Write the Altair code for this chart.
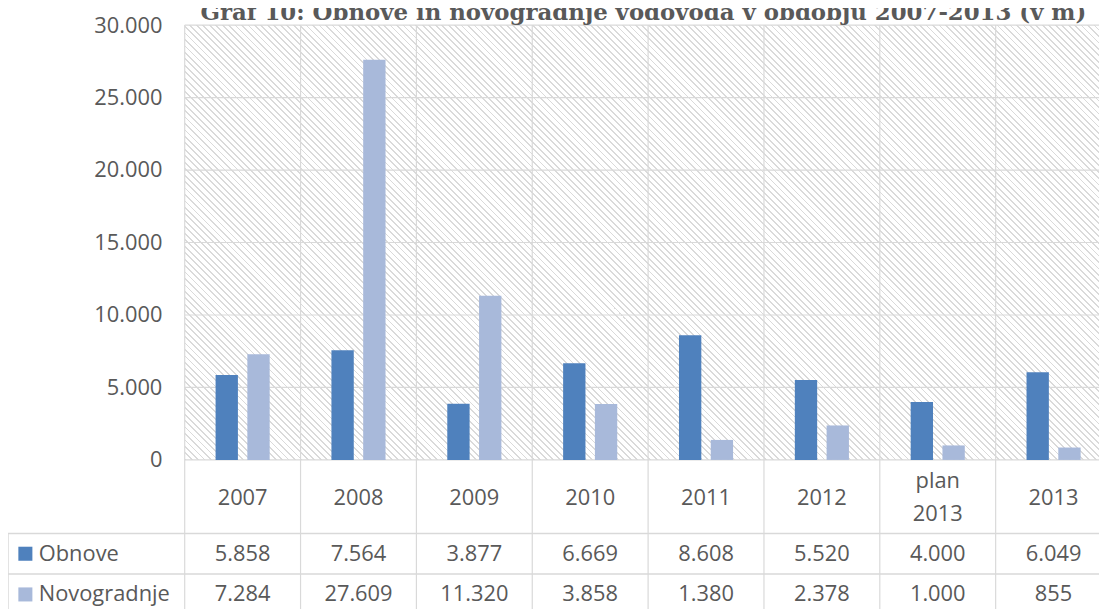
import math
import altair as alt
import pandas as pd

# ---------------- data ----------------
categories = ["2007", "2008", "2009", "2010", "2011", "2012", "plan 2013", "2013"]
category_labels = ["2007", "2008", "2009", "2010", "2011", "2012", "plan\n2013", "2013"]
series_names = ["Obnove", "Novogradnje"]
obnove = [5858, 7564, 3877, 6669, 8608, 5520, 4000, 6049]
novogradnje = [7284, 27609, 11320, 3858, 1380, 2378, 1000, 855]
y_ticks = [0, 5000, 10000, 15000, 20000, 25000, 30000]
title_text = "Graf 10: Obnove in novogradnje vodovoda v obdobju 2007-2013 (v m)"

series_colors = ["#4F81BD", "#A8B9DA"]
TEXT = "#595959"
GRID = "#d9d9d9"
FONT = "Open Sans"

# ---------------- layout ----------------
W, H = 921, 438
COL = 116.7
ROW_HEAD_BOTTOM = H + 74
ROW1_BOTTOM = ROW_HEAD_BOTTOM + 41
ROW2_BOTTOM = ROW1_BOTTOM + 41
LEFT = 178
LINE_H = 33

df_cat = pd.DataFrame({"cat": categories, "catlabel": category_labels})
df_cat["nlines"] = df_cat["catlabel"].str.count("\n") + 1
df = pd.DataFrame({"cat": categories, "Obnove": obnove, "Novogradnje": novogradnje})
df_long = df.melt(id_vars="cat", var_name="series", value_name="value")
df_ticks = pd.DataFrame({"tick": y_ticks})

x_scale = alt.Scale(domain=categories, range=[0, COL * len(categories)],
                    paddingInner=0, paddingOuter=0)
x_enc = alt.X("cat:N", scale=x_scale, axis=None)
y_scale = alt.Scale(domain=[0, 30000], nice=False)
y_axis = alt.Axis(values=y_ticks, title=None, grid=False, domain=False, ticks=False,
                  labelPadding=23, labelFont=FONT, labelFontSize=22, labelColor=TEXT,
                  labelExpr="replace(format(datum.value, ',d'), ',', '.')")
color_scale = alt.Scale(domain=series_names, range=series_colors)

# hatch background built as a striped linear gradient (style only)
L = (W + H) / math.sqrt(2)
period, lw = 4.6, 1.3
hatch_col = "#dadada"
stops = []
i = 0
while True:
    s = i * period / L
    e = (i * period + lw) / L
    if e > 1:
        break
    stops += [
        {"offset": round(s, 5), "color": "#ffffff"},
        {"offset": round(s, 5), "color": hatch_col},
        {"offset": round(e, 5), "color": hatch_col},
        {"offset": round(e, 5), "color": "#ffffff"},
    ]
    i += 1
k = (W + H) / (W ** 2 + H ** 2)
gradient = {"gradient": "linear", "stops": stops,
            "x1": 0, "y1": 1, "x2": round(k * W, 5), "y2": round(1 - k * H, 5)}

one = alt.Data(values=[{"a": 1}])

hatch = alt.Chart(one).mark_rect(fill=gradient, strokeWidth=0).encode(
    x=alt.value(0), x2=alt.value(W), y=alt.value(0), y2=alt.value(H))

hgrid = alt.Chart(df_ticks).mark_rule(color=GRID, strokeWidth=1.2).encode(
    y=alt.Y("tick:Q", scale=y_scale, axis=y_axis),
    x=alt.value(0), x2=alt.value(W))

vgrid = alt.Chart(df_cat).mark_rule(color=GRID, strokeWidth=1.2).encode(
    x=alt.X("cat:N", scale=x_scale, axis=None, bandPosition=0),
    y=alt.value(0), y2=alt.value(ROW2_BOTTOM))

bars = alt.Chart(df_long).mark_bar().encode(
    x=x_enc,
    xOffset=alt.XOffset("series:N", sort=series_names,
                        scale=alt.Scale(domain=series_names, paddingInner=0.297, paddingOuter=0.972)),
    y=alt.Y("value:Q", scale=y_scale, axis=y_axis),
    color=alt.Color("series:N", scale=color_scale, legend=None),
)

def hline(yv, x0):
    return alt.Chart(one).mark_rule(color=GRID, strokeWidth=1.5).encode(
        x=alt.value(x0), x2=alt.value(W), y=alt.value(yv))

line_head = hline(ROW_HEAD_BOTTOM, -LEFT)
line_r1 = hline(ROW1_BOTTOM, -LEFT)
line_r2 = hline(ROW2_BOTTOM, -LEFT)
vline_left = alt.Chart(one).mark_rule(color=GRID, strokeWidth=1.5).encode(
    x=alt.value(-LEFT), y=alt.value(ROW_HEAD_BOTTOM), y2=alt.value(ROW2_BOTTOM))

head_mid = (H + ROW_HEAD_BOTTOM) / 2 + 1

def head_layer(nl):
    return alt.Chart(df_cat).transform_filter(alt.datum.nlines == nl).mark_text(
        font=FONT, fontSize=22, color=TEXT, baseline="middle", lineBreak="\n", lineHeight=LINE_H
    ).encode(x=alt.X("cat:N", scale=x_scale, axis=None, bandPosition=0.5),
             y=alt.value(head_mid - (nl - 1) * LINE_H / 2), text="catlabel:N")

head1 = head_layer(1)
head2 = head_layer(2)

def value_row(name, yv):
    return alt.Chart(df_long).transform_filter(
        alt.datum.series == name
    ).transform_calculate(
        lab="replace(format(datum.value, ',d'), ',', '.')"
    ).mark_text(font=FONT, fontSize=22, color=TEXT, baseline="middle").encode(
        x=alt.X("cat:N", scale=x_scale, axis=None, bandPosition=0.5),
        y=alt.value(yv), text="lab:N")

row1 = value_row("Obnove", (ROW_HEAD_BOTTOM + ROW1_BOTTOM) / 2)
row2 = value_row("Novogradnje", (ROW1_BOTTOM + ROW2_BOTTOM) / 2)

df_series = pd.DataFrame({"series": series_names})

def legend_item(name, yv):
    sq = alt.Chart(df_series).transform_filter(alt.datum.series == name).mark_square(
        size=200, opacity=1).encode(
        x=alt.value(-LEFT + 17.5), y=alt.value(yv),
        color=alt.Color("series:N", scale=color_scale, legend=None))
    tx = alt.Chart(df_series).transform_filter(alt.datum.series == name).mark_text(
        font=FONT, fontSize=22, color=TEXT, align="left", baseline="middle").encode(
        x=alt.value(-LEFT + 31), y=alt.value(yv), text="series:N")
    return sq + tx

leg1 = legend_item("Obnove", (ROW_HEAD_BOTTOM + ROW1_BOTTOM) / 2)
leg2 = legend_item("Novogradnje", (ROW1_BOTTOM + ROW2_BOTTOM) / 2)

title = alt.Chart(alt.Data(values=[{"t": title_text}])).mark_text(
    font="DejaVu Serif", fontWeight="bold", fontSize=23, color=TEXT,
    align="center", baseline="alphabetic").encode(
    x=alt.value(462), y=alt.value(-5), text="t:N")

chart = alt.layer(
    hatch, hgrid, vgrid, bars, line_head, line_r1, line_r2, vline_left,
    head1, head2, row1, row2, leg1, leg2, title
).properties(
    width=W, height=H,
    autosize=alt.AutoSizeParams(type="none"),
    padding={"left": LEFT, "top": 15, "right": 0, "bottom": ROW2_BOTTOM - H + 2},
).configure_view(stroke=None)

chart.save("out.html", embed_options={"renderer": "svg", "actions": False})
